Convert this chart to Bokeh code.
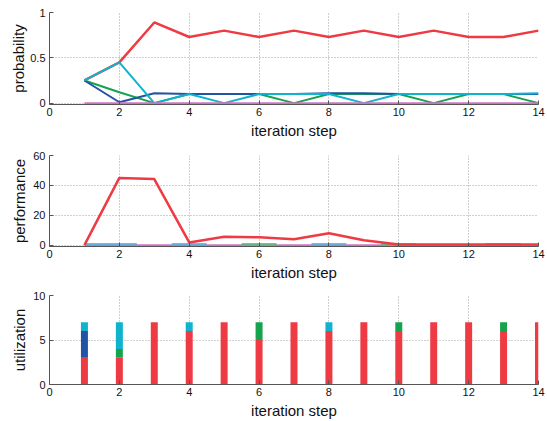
from bokeh.plotting import figure
from bokeh.layouts import column
from bokeh.models import Range1d, FixedTicker
from bokeh.embed import file_html
from bokeh.resources import INLINE

steps = [1, 2, 3, 4, 5, 6, 7, 8, 9, 10, 11, 12, 13, 14]
x_ticks = [0, 2, 4, 6, 8, 10, 12, 14]

# probability per option
prob_red = [0.25, 0.45, 0.89, 0.73, 0.80, 0.73, 0.80, 0.73, 0.80, 0.73, 0.80, 0.73, 0.73, 0.80]
prob_green = [0.25, 0.12, 0.00, 0.10, 0.10, 0.10, 0.00, 0.10, 0.10, 0.10, 0.00, 0.10, 0.10, 0.00]
prob_blue = [0.25, 0.01, 0.11, 0.10, 0.10, 0.10, 0.10, 0.11, 0.11, 0.10, 0.10, 0.10, 0.10, 0.10]
prob_cyan = [0.25, 0.45, 0.00, 0.10, 0.00, 0.10, 0.10, 0.10, 0.00, 0.10, 0.10, 0.10, 0.10, 0.11]
prob_magenta = [0, 0, 0, 0, 0, 0, 0, 0, 0, 0, 0, 0, 0, 0]
prob_ticks = [0, 0.5, 1]

# performance
perf_red = [0, 45, 44.2, 1.8, 5.6, 5.3, 4, 7.9, 3.3, 0.4, 0.4, 0.4, 0.4, 0.4]
perf_magenta = [0, 0, 0, 0, 0, 0, 0, 0, 0, 0, 0, 0, 0, 0]
perf_cyan_steps = [1, 2, 4, 8]
perf_green_steps = [6, 10, 13]
perf_small = 0.7
perf_ticks = [0, 20, 40, 60]

# utilization (stacked)
util_red = [3, 3, 7, 6, 7, 5, 7, 6, 7, 6, 7, 7, 6, 7]
util_blue = [3, 0, 0, 0, 0, 0, 0, 0, 0, 0, 0, 0, 0, 0]
util_green = [0, 1, 0, 0, 0, 2, 0, 0, 0, 1, 0, 0, 1, 0]
util_cyan = [1, 3, 0, 1, 0, 0, 0, 1, 0, 0, 0, 0, 0, 0]
util_ticks = [0, 5, 10]

RED = "#ee3a43"
GREEN = "#17a34e"
BLUE = "#2353a3"
CYAN = "#10b3cd"
MAGENTA = "#cc75be"
FONT = "Liberation Sans"


def make_fig(height, top, bottom, y_start, y_end, y_ticks, y_label, ylab_standoff):
    p = figure(width=547, height=height, x_range=Range1d(0, 14), y_range=Range1d(y_start, y_end),
               output_backend="svg", toolbar_location=None,
               min_border_left=49, min_border_right=9, min_border_top=top, min_border_bottom=bottom)
    p.outline_line_color = None
    xt = FixedTicker(ticks=x_ticks)
    yt = FixedTicker(ticks=y_ticks)
    p.xaxis.ticker = xt
    p.yaxis.ticker = yt
    p.xgrid.ticker = xt
    p.ygrid.ticker = yt
    for g in (p.xgrid, p.ygrid):
        g.grid_line_color = "#a0a0a0"
        g.grid_line_dash = "1 2"
        g.grid_line_width = 1
    for ax in (p.xaxis, p.yaxis):
        ax.axis_line_color = "#555555"
        ax.major_tick_line_color = "#555555"
        ax.major_tick_in = 4
        ax.major_tick_out = 0
        ax.minor_tick_line_color = None
        ax.major_label_text_font = FONT
        ax.major_label_text_font_size = "11px"
        ax.major_label_text_color = "#111111"
        ax.major_label_standoff = 4
        ax.axis_label_text_font = FONT
        ax.axis_label_text_font_size = "15px"
        ax.axis_label_text_font_style = "normal"
        ax.axis_label_text_color = "#111111"
    p.xaxis.major_label_standoff = 3
    p.xaxis.axis_label = "iteration step"
    p.xaxis.axis_label_standoff = 3
    p.yaxis.axis_label = y_label
    p.yaxis.axis_label_standoff = ylab_standoff
    return p


# --- probability ---
p1 = make_fig(147, 12, 43, -0.015, 1, prob_ticks, "probability", 0)
p1.yaxis.major_label_overrides = {0: "0", 0.5: "0.5", 1: "1"}
p1.line(steps, prob_red, line_color=RED, line_width=2.5)
p1.line(steps, prob_green, line_color=GREEN, line_width=2)
p1.line(steps, prob_blue, line_color=BLUE, line_width=2)
p1.line(steps, prob_cyan, line_color=CYAN, line_width=2)
p1.line(steps, prob_magenta, line_color=MAGENTA, line_width=2)

# --- performance ---
p2 = make_fig(140, 8, 41, -0.9, 60, perf_ticks, "performance", 2)
p2.line(steps, perf_magenta, line_color=MAGENTA, line_width=2)
p2.segment(x0=[max(s - 0.5, 1) for s in perf_green_steps], x1=[s + 0.5 for s in perf_green_steps],
           y0=[perf_small] * len(perf_green_steps), y1=[perf_small] * len(perf_green_steps),
           line_color="#4fb873", line_alpha=0.8, line_width=2)
p2.segment(x0=[max(s - 0.5, 1) for s in perf_cyan_steps], x1=[s + 0.5 for s in perf_cyan_steps],
           y0=[perf_small] * len(perf_cyan_steps), y1=[perf_small] * len(perf_cyan_steps),
           line_color="#5aaee0", line_alpha=0.85, line_width=2)
p2.line(steps, perf_red, line_color=RED, line_width=2.5)

# --- utilization ---
p3 = make_fig(134, 8, 33, 0, 10, util_ticks, "utilization", 2)
src = dict(steps=steps, red=util_red, blue=util_blue, green=util_green, cyan=util_cyan)
p3.vbar_stack(["red", "blue", "green", "cyan"], x="steps", width=0.2, source=src,
              color=[RED, BLUE, GREEN, CYAN], line_color=None)

layout = column(p1, p2, p3)
open("out.html", "w").write(file_html(layout, INLINE))
